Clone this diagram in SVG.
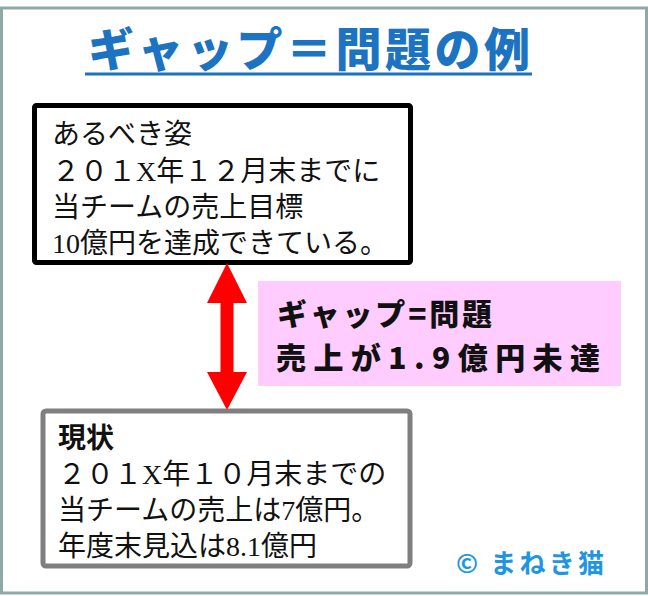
<svg xmlns="http://www.w3.org/2000/svg" width="648" height="596" viewBox="0 0 648 596">
<style>
.frame{fill:#ffffff;stroke:#8fa9a9;stroke-width:3}
.title{font-family:"Noto Sans CJK JP","Noto Sans",sans-serif;font-weight:900;font-size:46px;fill:#1b73c2}
.body{font-family:"Liberation Serif","Noto Sans CJK JP",serif;font-size:28px;fill:#111111}
.gap{font-family:"Noto Sans CJK JP","Noto Sans",sans-serif;font-weight:900;font-size:30px;fill:#111111}
.copy{font-family:"Noto Sans CJK JP","Noto Sans",sans-serif;font-weight:700;font-size:26px;fill:#2196e0}
</style>
<rect class="frame" x="1.5" y="8" width="645" height="585"/>
<g id="title">
<text class="title" x="88" y="66" textLength="442" lengthAdjust="spacing">ギャップ＝問題の例</text>
<line x1="85" y1="74" x2="532" y2="74" stroke="#1b73c2" stroke-width="3"/>
</g>
<g id="ideal">
<rect x="34.5" y="105.5" width="376" height="157" rx="2" fill="#ffffff" stroke="#000000" stroke-width="5"/>
<text class="body" x="52" y="144">あるべき姿</text>
<text class="body" x="52" y="181">２０１X年１２月末までに</text>
<text class="body" x="52" y="217">当チームの売上目標</text>
<text class="body" x="52" y="253">10億円を達成できている。</text>
</g>
<g id="connectors">
<polygon points="227,263 247,303 233.5,303 233.5,372 247,372 227,410 207,372 220.5,372 220.5,303 207,303" fill="#ff0000"/>
</g>
<g id="gap">
<rect x="258" y="281" width="363" height="105" fill="#ffccff"/>
<text class="gap" x="277" y="325" textLength="215" lengthAdjust="spacing">ギャップ=問題</text>
<text class="gap" x="276" y="369" textLength="324" lengthAdjust="spacing">売上が1.9億円未達</text>
</g>
<g id="current">
<rect x="43" y="411" width="367" height="155" rx="3" fill="#ffffff" stroke="#7f7f7f" stroke-width="5"/>
<text class="body" x="58" y="448" font-weight="700">現状</text>
<text class="body" x="58" y="484">２０１X年１０月末までの</text>
<text class="body" x="58" y="520">当チームの売上は7億円。</text>
<text class="body" x="58" y="556">年度末見込は8.1億円</text>
</g>
<g id="copyright">
<text class="copy" x="456" y="573" textLength="148" lengthAdjust="spacing">© まねき猫</text>
</g>
</svg>
